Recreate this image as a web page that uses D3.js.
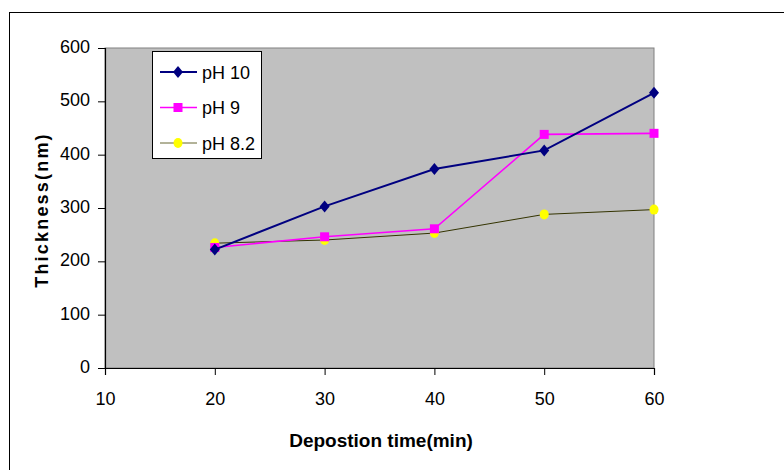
<!DOCTYPE html>
<html>
<head>
<meta charset="utf-8">
<script src="https://cdn.jsdelivr.net/npm/d3@7"></script>
<style>
    body { margin: 0; background: #fff; }
    svg { display: block; font-family: Arial, "Liberation Sans", sans-serif; }
</style>
</head>
<body>
<svg id="chart" width="784" height="470"></svg>
<script>
// data
const times = [20, 30, 40, 50, 60];
const ph10 = [222, 303, 373, 408, 516];
const ph9 = [226, 246, 261, 438, 440];
const ph82 = [234, 240, 253, 288, 297];
const xTicks = [10, 20, 30, 40, 50, 60];
const yTicks = [0, 100, 200, 300, 400, 500, 600];

const series = [
    {name: "pH 10", values: ph10, color: "#000080", line: "#000080", width: 2, marker: "diamond"},
    {name: "pH 9", values: ph9, color: "#FF00FF", line: "#FF00FF", width: 1.6, marker: "square"},
    {name: "pH 8.2", values: ph82, color: "#FFFF00", line: "#333300", width: 1, marker: "circle"}
];

const svg = d3.select("#chart");

// outer frame (runs off the right / bottom edge)
svg.append("rect")
    .attr("x", 9.5).attr("y", 12.5)
    .attr("width", 800).attr("height", 500)
    .attr("fill", "none").attr("stroke", "#000").attr("stroke-width", 1);

const x = d3.scaleLinear().domain([10, 60]).range([105, 654]);
const y = d3.scaleLinear().domain([0, 600]).range([368, 48]);

// plot area
svg.append("rect")
    .attr("x", x(10)).attr("y", y(600))
    .attr("width", x(60) - x(10)).attr("height", y(0) - y(600))
    .attr("fill", "#C0C0C0")
    .attr("stroke", "#808080").attr("stroke-width", 1);

// axes
const yAxis = svg.append("g")
    .attr("transform", `translate(${x(10)},0)`)
    .call(d3.axisLeft(y).tickValues(yTicks).tickSize(7).tickPadding(8));
const xAxis = svg.append("g")
    .attr("transform", `translate(0,${y(0)})`)
    .call(d3.axisBottom(x).tickValues(xTicks).tickSize(7).tickPadding(17));

[xAxis, yAxis].forEach(g => {
    g.select(".domain").attr("stroke", "#000").attr("stroke-width", 1.2);
    g.selectAll(".tick line").attr("stroke", "#000");
    g.selectAll(".tick text")
        .attr("fill", "#000")
        .style("font-size", "18px")
        .style("font-family", "Arial, 'Liberation Sans', sans-serif");
});
yAxis.selectAll(".tick text").attr("dy", "0.25em");

// axis titles
svg.append("text")
    .attr("transform", `translate(48,${(y(0) + y(600)) / 2 + 2}) rotate(-90)`)
    .attr("text-anchor", "middle")
    .style("font-size", "18px")
    .style("font-weight", "bold")
    .style("letter-spacing", "2.2px")
    .text("Thickness(nm)");

svg.append("text")
    .attr("x", 381).attr("y", 447)
    .attr("text-anchor", "middle")
    .style("font-size", "19px")
    .style("font-weight", "bold")
    .text("Depostion time(min)");

function drawMarker(g, type, cx, cy, color) {
    if (type === "diamond") {
        g.append("path")
            .attr("d", `M${cx},${cy - 6}L${cx + 5},${cy}L${cx},${cy + 6}L${cx - 5},${cy}Z`)
            .attr("fill", color);
    } else if (type === "square") {
        g.append("rect")
            .attr("x", cx - 4.5).attr("y", cy - 4.5)
            .attr("width", 9).attr("height", 9)
            .attr("fill", color);
    } else {
        g.append("ellipse")
            .attr("cx", cx).attr("cy", cy)
            .attr("rx", 4.5).attr("ry", 5)
            .attr("fill", color);
    }
}

const line = d3.line().x(d => x(d[0])).y(d => y(d[1]));

// draw back to front: pH 8.2, pH 9, pH 10
series.slice().reverse().forEach(s => {
    const pts = times.map((t, i) => [t, s.values[i]]);
    const g = svg.append("g");
    g.append("path")
        .datum(pts)
        .attr("d", line)
        .attr("fill", "none")
        .attr("stroke", s.line)
        .attr("stroke-width", s.width);
    pts.forEach(p => drawMarker(g, s.marker, x(p[0]), y(p[1]), s.color));
});

// legend
const legend = svg.append("g");
legend.append("rect")
    .attr("x", 152.5).attr("y", 51.5)
    .attr("width", 109).attr("height", 107)
    .attr("fill", "#fff").attr("stroke", "#000").attr("stroke-width", 1);
const rowY = [72, 107.5, 143];
series.forEach((s, i) => {
    legend.append("line")
        .attr("x1", 160).attr("x2", 197)
        .attr("y1", rowY[i]).attr("y2", rowY[i])
        .attr("stroke", i === 2 ? "#666633" : s.line)
        .attr("stroke-width", s.width);
    drawMarker(legend, s.marker, 178, rowY[i], s.color);
    legend.append("text")
        .attr("x", 202).attr("y", rowY[i] + 6.5)
        .style("font-size", "18px")
        .text(s.name);
});
</script>
</body>
</html>
